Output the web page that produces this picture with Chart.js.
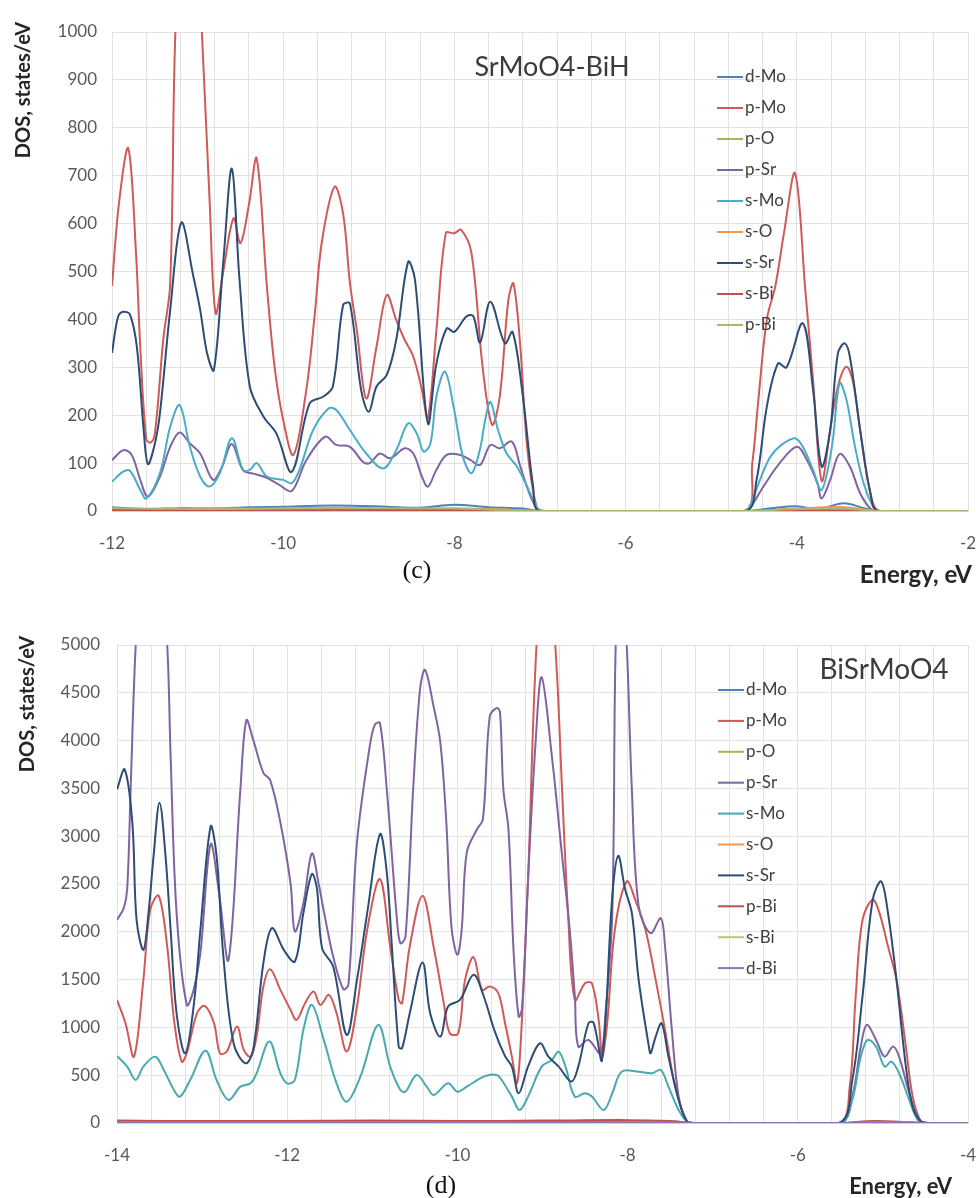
<!DOCTYPE html>
<html>
<head>
<meta charset="utf-8">
<title>DOS SrMoO4-BiH / BiSrMoO4</title>
<script src="https://cdn.jsdelivr.net/npm/chart.js@4.4.1/dist/chart.umd.min.js"></script>
<style>
    html, body { margin: 0; padding: 0; background: #fff; }
    canvas { position: absolute; left: 0; }
    #chartC { top: 0; }
    #chartD { top: 600px; }
</style>
</head>
<body>
<canvas id="chartC" width="976" height="600"></canvas>
<canvas id="chartD" width="976" height="598"></canvas>
<script>
// ---- (c) SrMoO4-BiH ----
const cLabels = ['d-Mo', 'p-Mo', 'p-O', 'p-Sr', 's-Mo', 's-O', 's-Sr', 's-Bi', 'p-Bi'];

const c_dMo_E = [-12, -11.6, -11.2, -10.8, -10.4, -10, -9.6, -9.2, -8.8, -8.4, -8.0, -7.6, -7.2, -7.0, -4.6, -4.3, -4.0, -3.75, -3.45, -3.2, -3.0, -2];
const c_dMo = [8, 4, 6, 5, 8, 9, 11, 11, 9, 7, 13, 8, 5, 0, 0, 6, 10, 4, 16, 5, 0, 0];

const c_pMo_E = [-12, -11.92, -11.81, -11.72, -11.67, -11.6, -11.55, -11.5, -11.4, -11.32, -11.26, -11.15, -11.05, -10.95, -10.86, -10.79, -10.7, -10.58, -10.5, -10.4, -10.31, -10.19, -10.1, -10, -9.88, -9.73, -9.63, -9.55, -9.4, -9.3, -9.22, -9.14, -9.03, -8.91, -8.79, -8.68, -8.58, -8.48, -8.38, -8.31, -8.21, -8.1, -8.0, -7.92, -7.8, -7.67, -7.56, -7.47, -7.37, -7.31, -7.23, -7.15, -7.04, -6.95, -4.62, -4.52, -4.45, -4.35, -4.25, -4.15, -4.02, -3.9, -3.81, -3.71, -3.61, -3.52, -3.42, -3.34, -3.26, -3.14, -3.03, -2];
const c_pMo = [470, 640, 757, 540, 343, 150, 143, 160, 360, 475, 997, 1350, 1350, 1000, 649, 413, 500, 611, 559, 640, 736, 468, 300, 190, 117, 253, 413, 560, 677, 621, 475, 378, 235, 343, 451, 399, 357, 322, 253, 193, 378, 580, 580, 587, 538, 300, 180, 239, 440, 475, 343, 134, 9, 0, 0, 100, 230, 400, 470, 580, 705, 460, 273, 63, 169, 260, 301, 267, 169, 37, 0, 0];

const c_pO_E = [-12, -11, -10, -9, -8, -7.3, -7.0, -4.6, -4.0, -3.45, -3.05, -2];
const c_pO = [4, 3, 5, 4, 3, 2, 0, 0, 3, 4, 0, 0];

const c_pSr_E = [-12, -11.87, -11.77, -11.67, -11.58, -11.44, -11.32, -11.21, -11.09, -10.97, -10.82, -10.72, -10.6, -10.47, -10.35, -10.2, -10.05, -9.9, -9.73, -9.51, -9.38, -9.22, -9.07, -8.99, -8.87, -8.75, -8.58, -8.48, -8.38, -8.31, -8.21, -8.09, -7.93, -7.81, -7.7, -7.58, -7.47, -7.33, -7.23, -7.11, -7.02, -6.95, -4.6, -4.55, -4.39, -4.2, -4.0, -3.88, -3.76, -3.71, -3.61, -3.5, -3.38, -3.26, -3.14, -3.05, -2];
const c_pSr = [106, 127, 117, 65, 30, 72, 134, 164, 141, 120, 65, 90, 140, 85, 78, 70, 55, 42, 106, 155, 138, 134, 103, 100, 120, 110, 131, 120, 72, 51, 86, 117, 117, 106, 96, 138, 131, 145, 93, 30, 3, 0, 0, 5, 51, 100, 134, 106, 58, 26, 65, 119, 93, 37, 5, 0, 0];

const c_sMo_E = [-12, -11.87, -11.79, -11.67, -11.6, -11.44, -11.32, -11.21, -11.09, -10.97, -10.86, -10.74, -10.6, -10.47, -10.39, -10.31, -10.19, -10.0, -9.9, -9.81, -9.65, -9.47, -9.38, -9.22, -9.03, -8.83, -8.68, -8.54, -8.44, -8.36, -8.28, -8.21, -8.11, -8.01, -7.9, -7.8, -7.7, -7.64, -7.58, -7.49, -7.39, -7.27, -7.15, -7.04, -6.98, -4.6, -4.55, -4.43, -4.31, -4.18, -4.02, -3.93, -3.81, -3.71, -3.59, -3.5, -3.42, -3.32, -3.22, -3.11, -3.05, -2];
const c_sMo = [61, 82, 84, 44, 26, 79, 176, 221, 134, 72, 51, 79, 152, 86, 86, 100, 72, 65, 58, 86, 169, 214, 211, 169, 120, 89, 127, 183, 162, 124, 141, 239, 291, 218, 113, 79, 130, 190, 228, 169, 120, 93, 51, 9, 0, 0, 9, 65, 113, 138, 152, 134, 86, 44, 134, 267, 232, 134, 58, 9, 0, 0];

const c_sO_E = [-12, -11.5, -11, -10, -9.4, -8.8, -8, -7.4, -7.0, -4.6, -4.0, -3.45, -3.05, -2];
const c_sO = [5, 3, 6, 4, 7, 4, 5, 3, 0, 0, 5, 8, 0, 0];

const c_sSr_E = [-12, -11.93, -11.87, -11.79, -11.71, -11.63, -11.58, -11.5, -11.44, -11.32, -11.19, -11.05, -10.97, -10.89, -10.81, -10.7, -10.6, -10.51, -10.39, -10.23, -10.08, -9.9, -9.69, -9.53, -9.42, -9.3, -9.22, -9.09, -9.0, -8.91, -8.79, -8.68, -8.54, -8.46, -8.31, -8.21, -8.09, -8.0, -7.86, -7.78, -7.7, -7.58, -7.41, -7.32, -7.2, -7.08, -7.0, -4.6, -4.47, -4.35, -4.22, -4.12, -3.93, -3.81, -3.71, -3.61, -3.52, -3.44, -3.38, -3.26, -3.14, -3.05, -2];
const c_sSr = [330, 405, 416, 410, 343, 169, 98, 140, 204, 420, 602, 490, 420, 330, 294, 520, 715, 482, 260, 197, 162, 82, 225, 239, 260, 430, 433, 253, 207, 260, 284, 357, 520, 482, 183, 308, 381, 374, 406, 407, 352, 437, 350, 374, 239, 51, 0, 0, 65, 218, 308, 300, 392, 253, 93, 169, 329, 350, 322, 169, 37, 0, 0];

const c_sBi_E = [-12, -10, -8, -7, -4.6, -4, -3.05, -2];
const c_sBi = [2, 2, 2, 0, 0, 2, 0, 0];

const c_pBi_E = [-12, -11, -10, -9, -8, -7.0, -4.6, -4.0, -3.45, -3.05, -2];
const c_pBi = [6, 4, 5, 6, 5, 0, 0, 4, 5, 0, 0];

// ---- (d) BiSrMoO4 ----
const dLabels = ['d-Mo', 'p-Mo', 'p-O', 'p-Sr', 's-Mo', 's-O', 's-Sr', 'p-Bi', 's-Bi', 'd-Bi'];

const d_dMo_E = [-14, -13, -12, -11, -10, -9, -8, -7.5, -7.2, -5.5, -5.1, -4.5, -4];
const d_dMo = [15, 10, 12, 15, 10, 15, 20, 10, 0, 0, 12, 0, 0];

const d_pMo_E = [-14, -13.9, -13.8, -13.69, -13.61, -13.51, -13.41, -13.33, -13.24, -13.18, -13.06, -12.97, -12.86, -12.79, -12.71, -12.59, -12.51, -12.43, -12.36, -12.28, -12.2, -12.08, -11.96, -11.89, -11.79, -11.69, -11.61, -11.51, -11.42, -11.3, -11.18, -11.06, -10.91, -10.79, -10.69, -10.65, -10.56, -10.41, -10.28, -10.16, -10.09, -9.99, -9.91, -9.81, -9.71, -9.62, -9.52, -9.44, -9.36, -9.3, -9.25, -9.17, -9.07, -8.96, -8.85, -8.77, -8.7, -8.62, -8.5, -8.42, -8.34, -8.3, -8.24, -8.15, -8.01, -7.91, -7.79, -7.67, -7.56, -7.44, -7.3, -7.2, -5.52, -5.39, -5.32, -5.24, -5.12, -5.04, -4.94, -4.84, -4.73, -4.65, -4.55, -4.45, -4];
const d_pMo = [1288, 1043, 694, 1497, 2230, 2377, 1846, 1078, 642, 729, 1148, 1225, 1043, 729, 747, 1009, 764, 694, 904, 1427, 1609, 1393, 1183, 1078, 1253, 1375, 1235, 1340, 1148, 747, 1218, 2021, 2552, 1846, 1288, 1253, 1846, 2377, 1846, 1253, 939, 939, 1497, 1735, 1393, 1427, 1358, 1043, 694, 415, 939, 2544, 5000, 6000, 5000, 3490, 2195, 1288, 1462, 1462, 1078, 694, 1043, 2021, 2527, 2335, 2021, 1497, 974, 380, 14, 0, 0, 380, 1323, 2125, 2335, 2195, 1846, 1497, 799, 276, 14, 0, 0];

const d_pO_E = [-14, -12.5, -11, -9.5, -8, -7.2, -5.5, -5.1, -4.5, -4];
const d_pO = [6, 5, 6, 5, 6, 0, 0, 5, 0, 0];

const d_pSr_E = [-14, -13.92, -13.88, -13.84, -13.78, -13.7, -13.5, -13.41, -13.37, -13.3, -13.18, -13.1, -13.02, -12.9, -12.8, -12.69, -12.55, -12.48, -12.4, -12.28, -12.2, -12.08, -11.96, -11.91, -11.81, -11.71, -11.63, -11.55, -11.46, -11.34, -11.28, -11.18, -11.03, -10.97, -10.91, -10.83, -10.71, -10.67, -10.61, -10.52, -10.44, -10.38, -10.28, -10.2, -10.13, -10.07, -10, -9.95, -9.89, -9.77, -9.7, -9.62, -9.54, -9.5, -9.46, -9.4, -9.34, -9.28, -9.24, -9.17, -9.08, -9.01, -8.89, -8.77, -8.68, -8.62, -8.58, -8.46, -8.32, -8.26, -8.18, -8.14, -8.08, -8.01, -7.95, -7.87, -7.73, -7.61, -7.56, -7.48, -7.4, -7.3, -7.2, -5.5, -5.36, -5.26, -5.19, -5.08, -4.98, -4.88, -4.81, -4.69, -4.57, -4.45, -4];
const d_pSr = [2125, 2250, 2450, 3490, 5000, 6000, 6000, 5000, 3837, 2200, 1235, 1392, 1776, 2917, 2400, 1707, 3490, 4212, 4010, 3663, 3587, 3143, 2500, 2003, 2300, 2820, 2500, 2125, 1741, 1400, 1450, 2934, 3941, 4167, 4184, 3490, 2125, 1881, 1950, 3490, 4531, 4740, 4358, 3976, 3143, 2055, 1759, 2020, 2830, 3073, 3177, 4253, 4340, 4300, 3490, 3073, 1800, 1113, 1200, 2544, 4000, 4663, 3837, 2795, 2021, 1323, 800, 869, 729, 1148, 2195, 5000, 6000, 5000, 3490, 2265, 1986, 2143, 1846, 974, 276, 14, 0, 0, 276, 800, 1026, 869, 694, 800, 694, 311, 31, 0, 0];

const d_sMo_E = [-14, -13.88, -13.78, -13.69, -13.55, -13.45, -13.33, -13.26, -13.14, -12.96, -12.83, -12.69, -12.55, -12.43, -12.36, -12.21, -12.08, -12, -11.91, -11.81, -11.71, -11.57, -11.42, -11.3, -11.14, -10.93, -10.79, -10.67, -10.61, -10.48, -10.36, -10.28, -10.11, -10, -9.89, -9.69, -9.54, -9.48, -9.36, -9.27, -9.17, -9.01, -8.89, -8.81, -8.73, -8.62, -8.5, -8.42, -8.28, -8.18, -8.07, -7.87, -7.71, -7.61, -7.52, -7.4, -7.3, -7.2, -5.5, -5.36, -5.26, -5.18, -5.08, -4.98, -4.9, -4.81, -4.69, -4.59, -4.48, -4];
const d_sMo = [701, 590, 450, 590, 694, 555, 345, 276, 450, 757, 450, 241, 380, 415, 520, 852, 520, 415, 450, 974, 1235, 869, 415, 223, 485, 1026, 590, 345, 328, 503, 380, 293, 415, 328, 380, 485, 503, 450, 276, 136, 276, 590, 660, 747, 590, 276, 311, 276, 136, 311, 537, 537, 520, 555, 380, 136, 14, 0, 0, 241, 694, 869, 799, 590, 642, 520, 241, 31, 0, 0];

const d_sO_E = [-14, -12, -10, -8, -7.2, -5.5, -5.1, -4.5, -4];
const d_sO = [4, 5, 4, 6, 0, 0, 4, 0, 0];

const d_sSr_E = [-14, -13.91, -13.82, -13.77, -13.69, -13.63, -13.57, -13.5, -13.43, -13.37, -13.3, -13.2, -13.1, -13.02, -12.9, -12.83, -12.75, -12.63, -12.49, -12.4, -12.28, -12.18, -12.04, -11.91, -11.81, -11.71, -11.65, -11.59, -11.46, -11.3, -11.18, -11.06, -10.91, -10.83, -10.77, -10.69, -10.65, -10.56, -10.41, -10.32, -10.2, -10.11, -9.97, -9.81, -9.69, -9.56, -9.44, -9.36, -9.28, -9.17, -9.03, -8.93, -8.81, -8.66, -8.58, -8.46, -8.4, -8.3, -8.18, -8.11, -8.03, -7.95, -7.87, -7.75, -7.73, -7.67, -7.6, -7.52, -7.4, -7.3, -7.2, -5.52, -5.36, -5.24, -5.12, -5.02, -4.94, -4.84, -4.73, -4.65, -4.55, -4.45, -4];
const d_sSr = [3490, 3698, 3143, 2125, 1811, 2195, 2795, 3351, 2795, 2021, 1148, 729, 1218, 2021, 3101, 2795, 1742, 834, 625, 764, 1672, 2038, 1811, 1689, 2195, 2604, 2448, 1829, 1637, 921, 1497, 2195, 3021, 2622, 1846, 799, 782, 1148, 1679, 1148, 904, 1218, 1288, 1550, 1323, 956, 700, 590, 311, 590, 834, 694, 590, 433, 590, 1043, 1050, 660, 2370, 2795, 2448, 2195, 1497, 799, 729, 904, 1043, 694, 241, 14, 0, 0, 450, 1323, 2335, 2527, 2195, 1497, 590, 171, 14, 0, 0];

const d_pBi_E = [-14, -13, -12, -11, -10, -9, -8, -7.5, -7.2, -5.5, -5.1, -4.5, -4];
const d_pBi = [25, 20, 22, 25, 20, 25, 30, 20, 0, 0, 20, 0, 0];

const d_sBi_E = [-14, -12, -10, -8, -7.2, -5.5, -5.1, -4.5, -4];
const d_sBi = [5, 6, 5, 6, 0, 0, 5, 0, 0];

const d_dBi_E = [-14, -12, -10, -8, -7.2, -5.5, -5.1, -4.5, -4];
const d_dBi = [8, 7, 8, 9, 0, 0, 6, 0, 0];

// Excel-like palette as seen in the figure
const cColors = ['#4F81BD', '#D05A57', '#9BBB59', '#8064A2', '#4BACC6', '#F79646', '#2C4D75', '#C0504D', '#A9B86E'];
const dColors = ['#4F81BD', '#D05A57', '#9BBB59', '#8064A2', '#46AAB0', '#F79646', '#2C4D75', '#C0504D', '#B5C97E', '#8C74B0'];

function series(label, energies, dos, color, idx) {
    return {
        label: label,
        data: energies.map((e, i) => ({ x: e, y: dos[i] })),
        borderColor: color,
        backgroundColor: color,
        borderWidth: 2,
        pointRadius: 0,
        tension: 0.35,
        fill: false,
        order: -idx   // later series drawn on top, like Excel
    };
}

// Texts drawn on top of the plot: inner title, legend, axis titles, caption
const overlay = {
    id: 'overlay',
    afterDraw(chart, args, o) {
        const ctx = chart.ctx;
        ctx.save();
        ctx.textBaseline = 'middle';

        ctx.fillStyle = '#3b3b3b';
        ctx.textAlign = 'center';
        ctx.font = o.titleFont;
        ctx.fillText(o.title, o.titleX, o.titleY);

        ctx.font = '17px Lato';
        ctx.textAlign = 'left';
        chart.data.datasets.forEach((ds, i) => {
            const y = o.legendY + i * o.legendStep;
            ctx.strokeStyle = ds.borderColor;
            ctx.lineWidth = 2;
            ctx.beginPath();
            ctx.moveTo(o.legendX, y);
            ctx.lineTo(o.legendX + 26, y);
            ctx.stroke();
            ctx.fillStyle = '#404040';
            ctx.fillText(ds.label, o.legendX + 28, y);
        });

        ctx.fillStyle = '#262626';
        ctx.font = 'bold ' + o.axisFont + 'px Lato';
        ctx.textAlign = 'right';
        ctx.fillText('Energy, eV', o.xTitleRight, o.xTitleY);

        ctx.save();
        ctx.translate(o.yTitleX, o.yTitleY);
        ctx.rotate(-Math.PI / 2);
        ctx.textAlign = 'center';
        ctx.font = 'bold 20px Lato';
        ctx.fillText('DOS, states/eV', 0, 0);
        ctx.restore();

        ctx.fillStyle = '#111';
        ctx.textAlign = 'center';
        ctx.font = '26px "Liberation Serif"';
        ctx.fillText(o.caption, o.captionX, o.captionY);
        ctx.restore();
    }
};

function options(cfg) {
    return {
        responsive: false,
        animation: false,
        layout: { padding: { top: cfg.padTop, right: 8, left: 0, bottom: 0 } },
        plugins: {
            legend: { display: false },
            tooltip: { enabled: false },
            overlay: cfg.overlay
        },
        scales: {
            x: {
                type: 'linear',
                min: cfg.xMin,
                max: cfg.xMax,
                grid: { color: '#e2e2e2', drawTicks: false },
                border: { color: '#cfcfcf' },
                ticks: {
                    stepSize: 0.4,
                    autoSkip: false,
                    maxRotation: 0,
                    padding: 22,
                    color: '#595959',
                    font: { family: 'Lato', size: 17 },
                    callback: v => (Math.abs(v % 2) < 1e-6 ? String(Math.round(v)) : '')
                },
                // fixed axis height; no extra side padding for the end labels
                afterFit: s => { s.height = cfg.xHeight; s.paddingLeft = 0; s.paddingRight = 0; }
            },
            y: {
                min: 0,
                max: cfg.yMax,
                grid: { color: '#e2e2e2', drawTicks: false },
                border: { color: '#e2e2e2' },
                ticks: {
                    stepSize: cfg.yStep,
                    padding: cfg.yPad,
                    color: '#595959',
                    font: { family: 'Lato', size: 17 },
                    callback: v => String(v)
                },
                afterFit: s => { s.width = cfg.yWidth; }
            }
        }
    };
}

const cData = [[c_dMo_E, c_dMo], [c_pMo_E, c_pMo], [c_pO_E, c_pO], [c_pSr_E, c_pSr], [c_sMo_E, c_sMo],
               [c_sO_E, c_sO], [c_sSr_E, c_sSr], [c_sBi_E, c_sBi], [c_pBi_E, c_pBi]];
const dData = [[d_dMo_E, d_dMo], [d_pMo_E, d_pMo], [d_pO_E, d_pO], [d_pSr_E, d_pSr], [d_sMo_E, d_sMo],
               [d_sO_E, d_sO], [d_sSr_E, d_sSr], [d_pBi_E, d_pBi], [d_sBi_E, d_sBi], [d_dBi_E, d_dBi]];

new Chart(document.getElementById('chartC'), {
    type: 'line',
    data: { datasets: cData.map((d, i) => series(cLabels[i], d[0], d[1], cColors[i], i)) },
    options: options({
        padTop: 32, xMin: -12, xMax: -2, xHeight: 89, yMax: 1000, yStep: 100, yPad: 15, yWidth: 112,
        overlay: {
            title: 'SrMoO4-BiH', titleFont: '27px Lato', titleX: 552, titleY: 67,
            legendX: 717, legendY: 77, legendStep: 31,
            axisFont: 24, xTitleRight: 972, xTitleY: 575,
            yTitleX: 24, yTitleY: 90,
            caption: '(c)', captionX: 417, captionY: 571
        }
    }),
    plugins: [overlay]
});

new Chart(document.getElementById('chartD'), {
    type: 'line',
    data: { datasets: dData.map((d, i) => series(dLabels[i], d[0], d[1], dColors[i], i)) },
    options: options({
        padTop: 45, xMin: -14, xMax: -4, xHeight: 75, yMax: 5000, yStep: 500, yPad: 17, yWidth: 117,
        overlay: {
            title: 'BiSrMoO4', titleFont: '28px Lato', titleX: 884, titleY: 70,
            legendX: 718, legendY: 90, legendStep: 30.9,
            axisFont: 22, xTitleRight: 952, xTitleY: 587,
            yTitleX: 28, yTitleY: 104,
            caption: '(d)', captionX: 441, captionY: 586
        }
    }),
    plugins: [overlay]
});
</script>
</body>
</html>
